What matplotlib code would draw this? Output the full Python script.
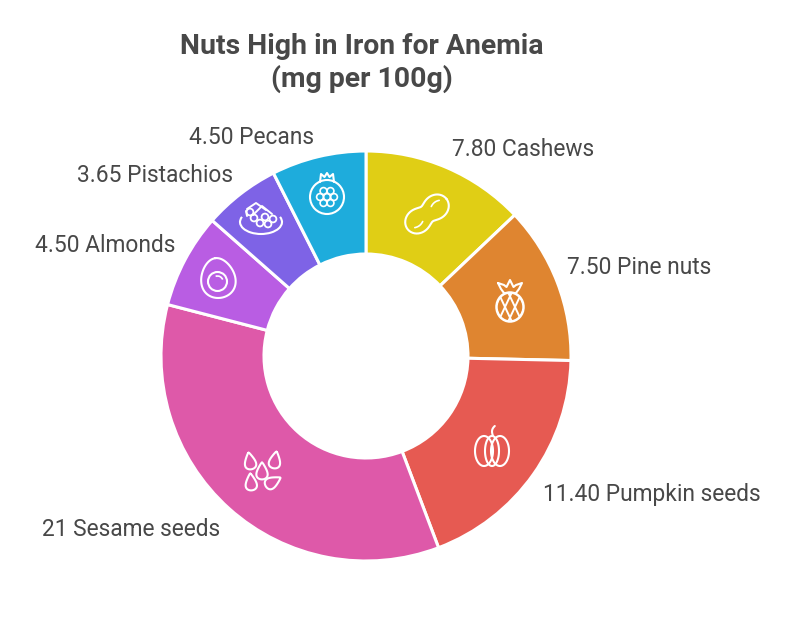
"""Donut chart of iron content in nuts, with white line icons on the wedges."""
import numpy as np
import matplotlib
matplotlib.use("Agg")
import matplotlib.pyplot as plt
from matplotlib.patches import Circle, Ellipse, Arc

# data
names = ["Cashews", "Pine nuts", "Pumpkin seeds", "Sesame seeds", "Almonds", "Pistachios", "Pecans"]
values = [7.80, 7.50, 11.40, 21, 4.50, 3.65, 4.50]
value_labels = ["7.80", "7.50", "11.40", "21", "4.50", "3.65", "4.50"]
colors = ["#E0CE15", "#DF8530", "#E65A52", "#DE59A9", "#B95DE3", "#7E63E6", "#1EACDC"]

INK = "#484848"
WHITE = "white"
LW = 1.5
plt.rcParams["font.family"] = ["Roboto", "DejaVu Sans"]

# axes work in image pixels, y pointing down
fig = plt.figure(figsize=(8, 6.31), dpi=100)
ax = fig.add_axes([0, 0, 1, 1])
ax.pie(values, colors=colors, startangle=-90, counterclock=True, center=(366, 356), radius=205,
       wedgeprops=dict(width=103, edgecolor="white", linewidth=2.2))
ax.set_xlim(0, 800); ax.set_ylim(631, 0); ax.axis("off")

ax.text(362, 63, "Nuts High in Iron for Anemia\n(mg per 100g)", ha="center", va="center",
        fontsize=20.4, weight="bold", color=INK, linespacing=1.22)

# label anchors (left edge, middle)
label_pos = [(452, 149), (567, 267), (543, 494), (42, 529), (35, 245), (77, 176), (189, 137)]
for v, n, (x, y) in zip(value_labels, names, label_pos):
    ax.text(x, y, f"{v} {n}", ha="left", va="center", fontsize=16.4, color=INK)


def line(xs, ys, lw=LW, **kw):
    ax.plot(xs, ys, color=WHITE, lw=lw, solid_capstyle="round", solid_joinstyle="round", **kw)


def rot_line(cx, cy, x, y, deg, lw=LW):
    a = np.radians(deg)
    line(cx + x * np.cos(a) - y * np.sin(a), cy + x * np.sin(a) + y * np.cos(a), lw=lw)


def ring(cx, cy, r, lw=LW):
    ax.add_patch(Circle((cx, cy), r, fill=False, ec=WHITE, lw=lw))


def peanut(cx, cy):
    t = np.linspace(0, 2 * np.pi, 160)
    r = 17 * (1 + 0.45 * np.cos(2 * t))
    rot_line(cx, cy, r * np.cos(t), r * np.sin(t), -38)
    # kernel marks
    tt = np.linspace(-5, 5, 12)
    rot_line(cx, cy, -13 + tt, 4.5 - 0.05 * tt ** 2, -38, lw=1.2)
    rot_line(cx, cy, 13 + tt, -4.5 + 0.05 * tt ** 2, -38, lw=1.2)


def pineapple(cx, cy):
    body = Ellipse((cx, cy + 7), 27, 29, fill=False, ec=WHITE, lw=LW + 0.3)
    ax.add_patch(body)
    for off in (-15, -5, 5, 15):
        a = ax.plot([cx + off - 8, cx + off + 8], [cy - 10, cy + 24], color=WHITE, lw=1.4)[0]
        b = ax.plot([cx - off - 8, cx - off + 8], [cy + 24, cy - 10], color=WHITE, lw=1.4)[0]
        a.set_clip_path(body); b.set_clip_path(body)
    crown_x = [-12, -6, -3.5, 0, 3.5, 6, 12, 9, 6, -6, -9, -12]
    crown_y = [-17, -15, -13, -20, -13, -15, -17, -11, -7, -7, -11, -17]
    line([cx + p for p in crown_x], [cy + p for p in crown_y])


def pumpkin(cx, cy):
    t = np.linspace(0, 2 * np.pi, 100)
    for ox, w in [(-8, 9), (8, 9), (0, 7)]:
        line(cx + ox + w * np.cos(t), cy + 3 + 15 * np.sin(t))
    s = np.linspace(0, 1, 12)
    line(cx + 1 - 1.5 * np.sin(s * 2.2) + 3 * s ** 3, cy - 12 - 10 * s)


def seed(cx, cy, rot):
    t = np.linspace(0, 2 * np.pi, 60)
    x = 8 * np.sin(t) * (0.62 - 0.38 * np.cos(t))
    y = -8.4 * np.cos(t)
    rot_line(cx, cy, x, y, rot, lw=1.5)


def egg(cx, cy):
    t = np.linspace(0, 2 * np.pi, 100)
    x = 17 * np.sin(t) * (1 - 0.16 * np.cos(t))
    y = -20 * np.cos(t)
    rot_line(cx, cy, x, y, -8)
    ring(cx - 0.5, cy + 3.5, 9.5)
    ax.add_patch(Arc((cx - 0.5, cy + 3.5), 11, 11, theta1=250, theta2=340, ec=WHITE, lw=1.2))


def tray(cx, cy):
    ax.add_patch(Arc((cx, cy), 42, 24, theta1=-15, theta2=195, ec=WHITE, lw=LW))
    for px, py in [(-7, -4), (-1, 1), (7, 2), (12, -3), (4, -5), (-11, -10)]:
        ring(cx + px, cy + py, 3.4, lw=1.3)
    line([cx - 14, cx - 5, cx + 5], [cy - 13, cy - 19, cy - 12], lw=1.4)
    line([cx - 8, cx + 1, cx + 11], [cy - 7, cy - 16, cy - 8], lw=1.4)
    line([cx - 15, cx - 14], [cy - 11, cy - 6], lw=1.4)


def pomegranate(cx, cy):
    ring(cx, cy, 17)
    line([cx - 7, cx - 6, cx - 2.5, cx, cx + 2.5, cx + 6, cx + 7],
         [cy - 15, cy - 23, cy - 20, cy - 24, cy - 20, cy - 23, cy - 15])
    for px, py in [(-3.5, -6), (3.5, -6), (-7, 0), (0, 0), (7, 0), (-3.5, 6), (3.5, 6)]:
        ring(cx + px, cy + py, 3.4, lw=1.2)


peanut(427, 214)
pineapple(510, 300)
pumpkin(492, 448)
for sx, sy, sr in [(250, 461, -10), (275, 460, 10), (262, 471, 0), (251, 482, -5), (273, 482, 60)]:
    seed(sx, sy, sr)
egg(218, 278)
tray(261, 222)
pomegranate(327, 197)

fig.savefig("out.png", dpi=100, facecolor="white")
